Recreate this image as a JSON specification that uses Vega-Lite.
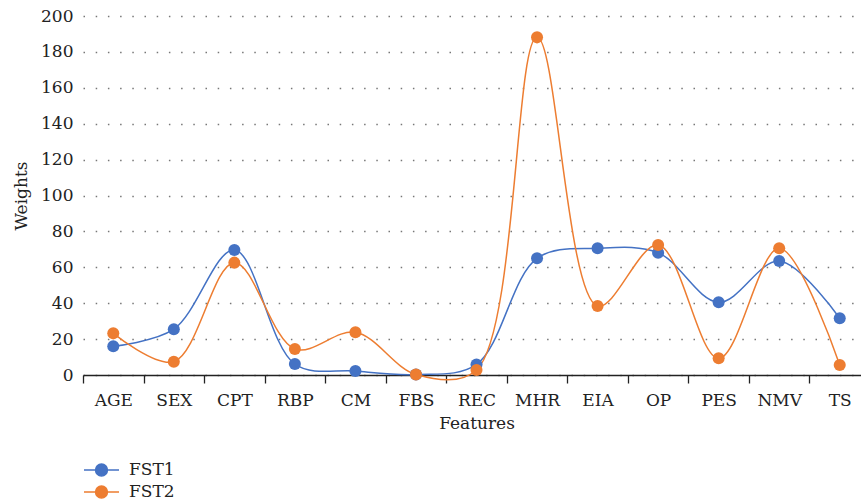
{
  "$schema": "https://vega.github.io/schema/vega-lite/v6.json",
  "autosize": "none",
  "width": 778,
  "height": 359,
  "padding": {"left": 83, "top": 16, "right": 0, "bottom": 129},
  "background": "white",
  "data": {
    "values": [
      {"Feature": "AGE", "Series": "FST1", "Weight": 16},
      {"Feature": "SEX", "Series": "FST1", "Weight": 25.5},
      {"Feature": "CPT", "Series": "FST1", "Weight": 69.6},
      {"Feature": "RBP", "Series": "FST1", "Weight": 6.1},
      {"Feature": "CM", "Series": "FST1", "Weight": 2.2},
      {"Feature": "FBS", "Series": "FST1", "Weight": 0.3},
      {"Feature": "REC", "Series": "FST1", "Weight": 5.9},
      {"Feature": "MHR", "Series": "FST1", "Weight": 65},
      {"Feature": "EIA", "Series": "FST1", "Weight": 70.6},
      {"Feature": "OP", "Series": "FST1", "Weight": 68.1},
      {"Feature": "PES", "Series": "FST1", "Weight": 40.5},
      {"Feature": "NMV", "Series": "FST1", "Weight": 63.5},
      {"Feature": "TS", "Series": "FST1", "Weight": 31.6},
      {"Feature": "AGE", "Series": "FST2", "Weight": 23.2},
      {"Feature": "SEX", "Series": "FST2", "Weight": 7.4},
      {"Feature": "CPT", "Series": "FST2", "Weight": 62.6},
      {"Feature": "RBP", "Series": "FST2", "Weight": 14.5},
      {"Feature": "CM", "Series": "FST2", "Weight": 23.8},
      {"Feature": "FBS", "Series": "FST2", "Weight": 0.3},
      {"Feature": "REC", "Series": "FST2", "Weight": 2.8},
      {"Feature": "MHR", "Series": "FST2", "Weight": 188.1},
      {"Feature": "EIA", "Series": "FST2", "Weight": 38.4},
      {"Feature": "OP", "Series": "FST2", "Weight": 72.4},
      {"Feature": "PES", "Series": "FST2", "Weight": 9.3},
      {"Feature": "NMV", "Series": "FST2", "Weight": 70.6},
      {"Feature": "TS", "Series": "FST2", "Weight": 5.6}
    ]
  },
  "encoding": {
    "x": {
      "field": "Feature",
      "type": "nominal",
      "sort": null,
      "title": "Features",
      "scale": {"range": [0, 787], "paddingInner": 0, "paddingOuter": 0},
      "axis": {
        "labelAngle": 0,
        "tickBand": "extent",
        "tickSize": 8,
        "tickColor": "#222",
        "tickWidth": 1.3,
        "domainColor": "#222",
        "domainWidth": 1.5,
        "labelPadding": 9,
        "titlePadding": 7,
        "grid": false
      }
    },
    "y": {
      "field": "Weight",
      "type": "quantitative",
      "title": "Weights",
      "scale": {"domain": [0, 200], "nice": false, "zero": true},
      "axis": {
        "values": [0, 20, 40, 60, 80, 100, 120, 140, 160, 180, 200],
        "labelOverlap": false,
        "domain": false,
        "ticks": false,
        "labelPadding": 10,
        "titlePadding": 10,
        "grid": true,
        "gridDash": [1.5, 10.7],
        "gridColor": "#777",
        "gridWidth": 1.3
      }
    },
    "color": {
      "field": "Series",
      "type": "nominal",
      "title": null,
      "scale": {"domain": ["FST1", "FST2"], "range": ["#4472C4", "#ED7D31"]},
      "legend": {
        "orient": "none",
        "legendX": 0,
        "legendY": 443,
        "direction": "vertical",
        "padding": 0,
        "symbolType": "M-1,0H-0.34A0.34,0.34,0,1,1,0.34,0A0.34,0.34,0,1,1,-0.34,0M0.34,0H1",
        "symbolSize": 1225,
        "symbolStrokeWidth": 1.5,
        "clipHeight": 22,
        "rowPadding": 0,
        "labelOffset": 9,
        "labelFont": "DejaVu Serif",
        "labelFontSize": 17,
        "labelColor": "#222"
      }
    }
  },
  "layer": [
    {
      "mark": {"type": "line", "interpolate": "catmull-rom", "strokeWidth": 1.5}
    },
    {
      "mark": {"type": "point", "filled": true, "shape": "circle", "size": 145, "opacity": 1}
    }
  ],
  "config": {
    "view": {"stroke": null},
    "font": "DejaVu Serif",
    "axis": {
      "labelFont": "DejaVu Serif",
      "labelFontSize": 17,
      "labelColor": "#222",
      "titleFont": "DejaVu Serif",
      "titleFontSize": 17,
      "titleFontWeight": "normal",
      "titleColor": "#222"
    }
  }
}
